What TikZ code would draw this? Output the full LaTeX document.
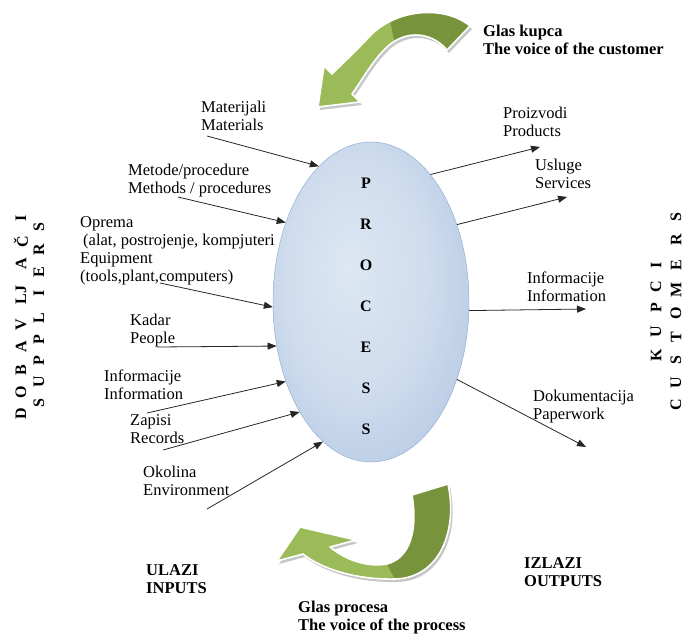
\documentclass[tikz,border=0pt]{standalone}
\usepackage{fontspec}
\setmainfont{Liberation Serif}
\usetikzlibrary{shapes.geometric}
\usetikzlibrary{arrows.meta}

\definecolor{procin}{HTML}{DDE7F3}
\definecolor{procout}{HTML}{98B3D8}
\definecolor{procline}{HTML}{8AA7CE}
\definecolor{grlight}{HTML}{9BBB59}
\definecolor{grdark}{HTML}{77933C}
\pgfdeclareradialshading{procshade}{\pgfpoint{-6bp}{6bp}}{color(0bp)=(procin); color(18bp)=(procin!80!procout); color(50bp)=(procout)}

% the two green feedback arrows (pixel coordinates, y down)
\def\voicecust{(470,26) .. controls (445,5) and (395,8) .. (368,38) .. controls (355,52) and (342,64) .. (332,74) -- (324,66) -- (318,107) -- (360,102) -- (352,94) .. controls (362,80) and (372,62) .. (384,50) .. controls (402,30) and (430,30) .. (447,50) -- cycle}
\def\voiceproc{(448,484) .. controls (458,530) and (440,578) .. (395,579) .. controls (355,580) and (320,568) .. (303,554) -- (277,561) -- (300,527) -- (356,540) -- (330,547) .. controls (348,562) and (370,567) .. (387,564) .. controls (410,558) and (418,530) .. (412,495) -- cycle}

\begin{document}
\begin{tikzpicture}[x=1pt,y=-1pt,
    lbl/.style={anchor=base west,align=left,inner sep=0pt,font=\fontsize{16.5}{18}\selectfont},
    blbl/.style={lbl,font=\bfseries\fontsize{16.5}{18}\selectfont},
    vlbl/.style={rotate=90,inner sep=0pt,font=\bfseries\fontsize{16}{18}\selectfont},
    arr/.style={black!85,line width=0.8pt,-{Triangle[length=9pt,width=7pt]}}]
            \useasboundingbox (0,0) rectangle (684,633);

            % feedback arrows
            \fill[black!22,shift={(2,3)}] \voicecust;
            \fill[grlight] \voicecust;
            \begin{scope}
                \clip \voicecust;
                \fill[grdark] (386,0) -- (500,0) -- (500,70) -- (400,70) -- cycle;
            \end{scope}
            \draw[white,line width=1.6pt,line join=round] \voicecust;

            \fill[black!22,shift={(2,3)}] \voiceproc;
            \fill[grlight] \voiceproc;
            \begin{scope}
                \clip \voiceproc;
                \fill[grdark] (385,561) -- (401,590) -- (470,590) -- (470,470) -- (380,470) -- cycle;
            \end{scope}
            \draw[white,line width=1.6pt,line join=round] \voiceproc;

            % process
            \node[ellipse,minimum width=196pt,minimum height=320pt,inner sep=0pt,draw=procline,shading=procshade] (proc) at (371,302) {};
            \foreach \l [count=\i] in {P,R,O,C,E,S,S}
                \node[inner sep=0pt,font=\bfseries\fontsize{16}{18}\selectfont] (p\i) at (366,142+41*\i) {\l};

            % inputs (node base = last line)
            \node[lbl] (mat) at (201,130) {Materijali\\Materials};
            \node[lbl] (met) at (128,193) {Metode/procedure\\Methods / procedures};
            \node[lbl] (opr) at (80,281) {Oprema\\\hspace{3pt}(alat, postrojenje, kompjuteri\\Equipment\\(tools,plant,computers)};
            \node[lbl] (kad) at (130,343) {Kadar\\People};
            \node[lbl] (inf) at (104,399) {Informacije\\Information};
            \node[lbl] (zap) at (130,443) {Zapisi\\Records};
            \node[lbl] (oko) at (143,495) {Okolina\\Environment};
            \coordinate (mat0) at (207,136);
            \coordinate (met0) at (178,197);
            \coordinate (opr0) at (160,283);
            \coordinate (kad0) at (157,347);
            \coordinate (inf0) at (147,413);
            \coordinate (zap0) at (163,450);
            \coordinate (oko0) at (207,509);
            \foreach \a/\b in {mat0/111,met0/137,opr0/183,kad0/205.6,inf0/223,zap0/237,oko0/251}
                \draw[arr] (\a) -- (proc.\b);

            % outputs
            \node[lbl] (pro) at (503,136) {Proizvodi\\Products};
            \node[lbl] (usl) at (535,188) {Usluge\\Services};
            \node[lbl] (inr) at (527,301) {Informacije\\Information};
            \node[lbl] (dok) at (533,419) {Dokumentacija\\Paperwork};
            \coordinate (pro0) at (540,147);
            \coordinate (usl0) at (567,197);
            \coordinate (inr0) at (586,309);
            \coordinate (dok0) at (586,447);
            \foreach \a/\b in {pro0/65,usl0/42,inr0/355.9,dok0/318}
                \draw[arr] (proc.\b) -- (\a);

            % side titles, letter by letter
            \foreach \l/\y [count=\i] in {D/414,O/392,B/370,A/347,V/325,LJ/295,A/264,Č/242,I/218}
                \node[vlbl] (dob\i) at (21,\y) {\l};
            \foreach \l/\y [count=\i] in {S/403,U/382,P/361,P/340,L/318,I/293,E/272,R/250,S/227}
                \node[vlbl] (sup\i) at (39,\y) {\l};
            \foreach \l/\y [count=\i] in {K/355,U/332,P/308,C/287,I/265}
                \node[vlbl] (kup\i) at (656,\y) {\l};
            \foreach \l/\y [count=\i] in {C/405,U/383,S/360,T/337,O/313,M/290,E/265,R/240,S/217}
                \node[vlbl] (cus\i) at (676,\y) {\l};

            % bottom titles
            \node[blbl] (glk) at (483,54) {Glas kupca\\The voice of the customer};
            \node[blbl] (ula) at (146,593) {ULAZI\\INPUTS};
            \node[blbl] (izl) at (524,586) {IZLAZI\\OUTPUTS};
            \node[blbl] (glp) at (298,630) {Glas procesa\\The voice of the process};
\end{tikzpicture}
\end{document}
